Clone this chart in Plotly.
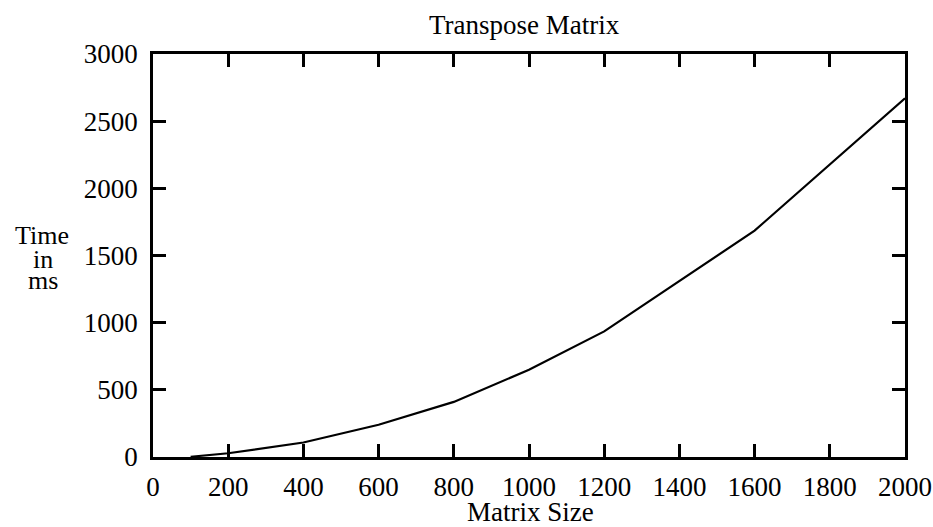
import plotly.graph_objects as go

matrix_size = [100, 200, 400, 600, 800, 1000, 1200, 1600, 2000]
time_ms = [2, 28, 108, 240, 410, 650, 935, 1685, 2670]

x_ticks = [0, 200, 400, 600, 800, 1000, 1200, 1400, 1600, 1800, 2000]
y_ticks = [0, 500, 1000, 1500, 2000, 2500, 3000]

FONT = "Liberation Serif"
FS = 27

L, R, T, B = 153, 905, 54, 457
W, H = 933, 527
pw, ph = R - L, B - T


def px(x):
    return (x - L) / pw


def py(y):
    return (B - y) / ph


fig = go.Figure()
fig.add_trace(go.Scatter(x=matrix_size, y=time_ms, mode="lines",
                         line=dict(color="black", width=2.2), showlegend=False))

axis_common = dict(showgrid=False, zeroline=False, showline=True, linecolor="black",
                   linewidth=2.5, mirror="ticks", ticks="inside", ticklen=13,
                   tickwidth=2.5, tickcolor="black", automargin=False,
                   tickfont=dict(family=FONT, size=FS, color="black"))

font = dict(family=FONT, size=FS, color="black")
yfont = dict(family=FONT, size=26, color="black")
fig.update_layout(
    width=W, height=H,
    margin=dict(l=L, r=W - R, t=T, b=H - B, autoexpand=False),
    paper_bgcolor="white", plot_bgcolor="white",
    xaxis=dict(range=[0, 2000], tickvals=x_ticks, ticktext=[str(v) for v in x_ticks],
               ticklabelstandoff=4, **axis_common),
    yaxis=dict(range=[0, 3000], tickvals=y_ticks, ticktext=[str(v) for v in y_ticks],
               ticklabelstandoff=7, **axis_common),
    annotations=[
        dict(text="Transpose Matrix", x=px(524), y=py(25), xanchor="center", yanchor="middle",
             xref="paper", yref="paper", showarrow=False, font=font),
        dict(text="Matrix Size", x=px(530), y=py(512), xanchor="center", yanchor="middle",
             xref="paper", yref="paper", showarrow=False, font=font),
        dict(text="Time", x=px(42), y=py(235), xanchor="center", yanchor="middle",
             xref="paper", yref="paper", showarrow=False, font=yfont),
        dict(text="in", x=px(43), y=py(259), xanchor="center", yanchor="middle",
             xref="paper", yref="paper", showarrow=False, font=yfont),
        dict(text="ms", x=px(43), y=py(280), xanchor="center", yanchor="middle",
             xref="paper", yref="paper", showarrow=False, font=yfont),
    ],
)

fig.write_html("out.html")
